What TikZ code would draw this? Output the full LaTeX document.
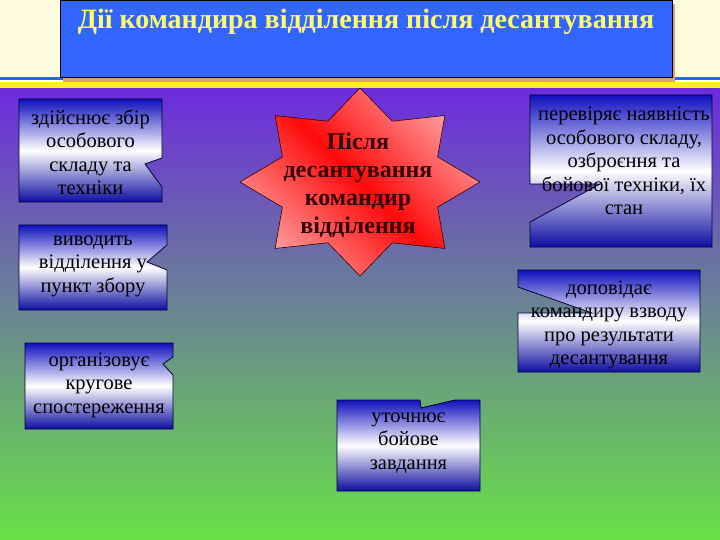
\documentclass[tikz,border=0pt]{standalone}
\usepackage{fontspec}
\setmainfont{Liberation Serif}
\definecolor{cream}{RGB}{255,252,222}
\definecolor{stripeblue}{RGB}{30,110,220}
\definecolor{stripeyellow}{RGB}{255,240,20}
\definecolor{bgtop}{RGB}{108,44,220}
\definecolor{bgmid}{RGB}{100,135,145}
\definecolor{bgbot}{RGB}{104,226,70}
\definecolor{titlefill}{RGB}{51,102,255}
\definecolor{titletext}{RGB}{255,255,102}
\definecolor{shadowtan}{RGB}{222,160,120}
\definecolor{boxdark}{RGB}{16,16,190}
\definecolor{boxline}{RGB}{0,0,50}
\definecolor{starlight}{RGB}{255,155,155}
\definecolor{starred}{RGB}{255,10,10}
\definecolor{startext}{RGB}{50,0,0}
\tikzset{
  callout/.style={draw=boxline, line width=0.8pt, top color=boxdark, bottom color=boxdark!85!black, middle color=white},
  boxtext/.style={font=\fontsize{20.5}{23.5}\selectfont, align=center, text=black, inner sep=0pt},
}
\begin{document}
\begin{tikzpicture}[x=1pt,y=-1pt]
\useasboundingbox (0,0) rectangle (720,540);
% background
\fill[cream] (0,0) rectangle (720,77);
\fill[stripeblue] (0,77) rectangle (720,80.5);
\fill[white!60!cream] (0,80.5) rectangle (720,82);
\fill[stripeyellow] (0,82) rectangle (720,88.5);
\shade[top color=bgtop, middle color=bgmid, bottom color=bgbot] (0,88.5) rectangle (720,540);
% title
\fill[shadowtan] (63,4) rectangle (675,82);
\draw[fill=titlefill, draw=black, line width=0.8pt] (60,0.5) rectangle (672,77);
\node[font=\fontsize{28}{32}\selectfont\bfseries, text=titletext, inner sep=0pt] (title) at (366,22) {Дії командира відділення після десантування};
% star
\shadedraw[draw=startext, line width=0.6pt, top color=starlight, bottom color=starlight, middle color=starred, shading angle=-45]
  plot[samples at={0,1,...,15}, variable=\k] ({360+120*(1-0.3*mod(\k,2))*cos(\k*22.5)}, {182-94*(1-0.3*mod(\k,2))*sin(\k*22.5)}) -- cycle;
\node[font=\fontsize{24}{28}\selectfont\bfseries, text=startext, align=center, inner sep=0pt] (centre) at (358,185.5) {Після\\десантування\\командир\\відділення};
% box 1
\path[callout] (19,99) -- (162,99) -- (162,158) -- (145,164) -- (162,187) -- (162,202) -- (19,202) -- cycle;
\node[boxtext] (b1) at (90.5,152.5) {здійснює збір\\особового\\складу та\\техніки};
% box 2
\path[callout] (19,225) -- (167,225) -- (167,245) -- (147,262) -- (167,270) -- (167,310) -- (19,310) -- cycle;
\node[boxtext] (b2) at (93,266) {виводить\\відділення у\\пункт збору};
% box 3
\path[callout] (25,343) -- (173,343) -- (173,357) -- (163,364) -- (173,375) -- (173,429) -- (25,429) -- cycle;
\node[boxtext] (b3) at (99,385) {організовує\\кругове\\спостереження};
% box 4
\path[callout] (337,400) -- (420,400) -- (421,408) -- (455,400) -- (480,400) -- (480,491) -- (337,491) -- cycle;
\node[boxtext] (b4) at (408.5,443) {уточнює\\бойове\\завдання};
% box 5
\path[callout] (530,95) -- (712,95) -- (712,247) -- (530,247) -- (530,222) -- (600,184) -- (530,184) -- cycle;
\node[boxtext] (b5) at (624,161) {перевіряє наявність\\особового складу,\\озброєння та\\бойової техніки, їх\\стан};
% box 6
\path[callout] (518,270) -- (700,270) -- (700,372) -- (518,372) -- (518,313) -- (592,313) -- (518,287) -- cycle;
\node[boxtext] (b6) at (609,325) {доповідає\\командиру взводу\\про результати\\десантування};
\end{tikzpicture}
\end{document}
